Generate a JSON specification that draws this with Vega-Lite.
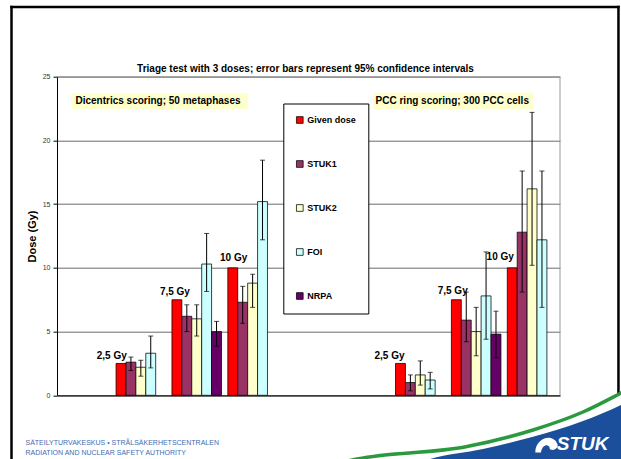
{
  "$schema": "https://vega.github.io/schema/vega-lite/v6.json",
  "width": 503,
  "height": 318.6,
  "autosize": {"type": "none"},
  "padding": {"left": 57, "top": 76.7, "right": 61, "bottom": 63.7},
  "background": "white",
  "config": {"view": {"stroke": null}, "font": "Liberation Sans"},
  "datasets": {
    "bars": [
      {"cat": "Dic 2,5 Gy", "series": "Given dose", "dose": 2.5, "lo": null, "hi": null},
      {"cat": "Dic 2,5 Gy", "series": "STUK1", "dose": 2.6, "lo": 1.95, "hi": 3.0},
      {"cat": "Dic 2,5 Gy", "series": "STUK2", "dose": 2.2, "lo": 1.5, "hi": 2.75},
      {"cat": "Dic 2,5 Gy", "series": "FOI", "dose": 3.3, "lo": 2.15, "hi": 4.65},
      {"cat": "Dic 7,5 Gy", "series": "Given dose", "dose": 7.5, "lo": null, "hi": null},
      {"cat": "Dic 7,5 Gy", "series": "STUK1", "dose": 6.2, "lo": 5.0, "hi": 7.1},
      {"cat": "Dic 7,5 Gy", "series": "STUK2", "dose": 6.0, "lo": 4.65, "hi": 7.1},
      {"cat": "Dic 7,5 Gy", "series": "FOI", "dose": 10.3, "lo": 8.15, "hi": 12.7},
      {"cat": "Dic 7,5 Gy", "series": "NRPA", "dose": 5.0, "lo": 3.85, "hi": 5.8},
      {"cat": "Dic 10 Gy", "series": "Given dose", "dose": 10, "lo": null, "hi": null},
      {"cat": "Dic 10 Gy", "series": "STUK1", "dose": 7.3, "lo": 5.65, "hi": 8.55},
      {"cat": "Dic 10 Gy", "series": "STUK2", "dose": 8.8, "lo": 6.9, "hi": 9.5},
      {"cat": "Dic 10 Gy", "series": "FOI", "dose": 15.2, "lo": 12.2, "hi": 18.45},
      {"cat": "PCC 2,5 Gy", "series": "Given dose", "dose": 2.5, "lo": null, "hi": null},
      {"cat": "PCC 2,5 Gy", "series": "STUK1", "dose": 1.0, "lo": 0.35, "hi": 1.6},
      {"cat": "PCC 2,5 Gy", "series": "STUK2", "dose": 1.6, "lo": 0.8, "hi": 2.7},
      {"cat": "PCC 2,5 Gy", "series": "FOI", "dose": 1.2, "lo": 0.5, "hi": 1.8},
      {"cat": "PCC 7,5 Gy", "series": "Given dose", "dose": 7.5, "lo": null, "hi": null},
      {"cat": "PCC 7,5 Gy", "series": "STUK1", "dose": 5.9, "lo": 4.2, "hi": 8.1},
      {"cat": "PCC 7,5 Gy", "series": "STUK2", "dose": 5.0, "lo": 3.1, "hi": 6.9},
      {"cat": "PCC 7,5 Gy", "series": "FOI", "dose": 7.8, "lo": 4.4, "hi": 11.25},
      {"cat": "PCC 7,5 Gy", "series": "NRPA", "dose": 4.8, "lo": 2.95, "hi": 6.6},
      {"cat": "PCC 10 Gy", "series": "Given dose", "dose": 10, "lo": null, "hi": null},
      {"cat": "PCC 10 Gy", "series": "STUK1", "dose": 12.8, "lo": 8.1, "hi": 17.6},
      {"cat": "PCC 10 Gy", "series": "STUK2", "dose": 16.2, "lo": 10.2, "hi": 22.2},
      {"cat": "PCC 10 Gy", "series": "FOI", "dose": 12.2, "lo": 6.9, "hi": 17.6}
    ],
    "boxes": [
      {"label": "Dicentrics scoring; 50 metaphases", "u1": 0.27, "u2": 3.42, "v1": 22.45, "v2": 23.72, "tu": 0.33, "tv": 23.09},
      {"label": "PCC ring scoring; 300 PCC cells", "u1": 5.66, "u2": 8.52, "v1": 22.44, "v2": 23.74, "tu": 5.7, "tv": 23.09}
    ],
    "doselabels": [
      {"label": "2,5 Gy", "u": 0.98, "v": 3.08},
      {"label": "7,5 Gy", "u": 2.11, "v": 8.13},
      {"label": "10 Gy", "u": 3.16, "v": 10.8},
      {"label": "2,5 Gy", "u": 5.95, "v": 3.08},
      {"label": "7,5 Gy", "u": 7.08, "v": 8.16},
      {"label": "10 Gy", "u": 7.93, "v": 10.83}
    ],
    "titletext": [
      {"label": "Triage test with 3 doses; error bars represent 95% confidence intervals", "u": 4.446, "v": 25.37}
    ],
    "border": [
      {"u1": 0, "u2": 9, "v1": 25, "v2": 25},
      {"u1": 9, "u2": 9, "v1": 0, "v2": 25}
    ],
    "frame": [
      {"u1": -0.814, "u2": -0.814, "v1": -5.86, "v2": 30.47},
      {"u1": -0.814, "u2": 10.046, "v1": 30.47, "v2": 30.47},
      {"u1": 10.046, "u2": 10.046, "v1": 0.1, "v2": 30.47}
    ],
    "bluearea": [
      {"u": 6.316, "top": -5.55, "bottom": -6.5},
      {"u": 6.674, "top": -5.0, "bottom": -6.5},
      {"u": 7.622, "top": -4.21, "bottom": -6.5},
      {"u": 8.517, "top": -3.26, "bottom": -6.5},
      {"u": 9.411, "top": -2.02, "bottom": -6.5},
      {"u": 10.091, "top": -0.76, "bottom": -6.5},
      {"u": 10.431, "top": 0.02, "bottom": -6.5}
    ],
    "greenline": [
      {"u": 4.885, "v": -5.47},
      {"u": 5.368, "v": -5.0},
      {"u": 7.336, "v": -4.02},
      {"u": 8.517, "v": -2.72},
      {"u": 9.411, "v": -1.31},
      {"u": 10.091, "v": 0.18},
      {"u": 10.431, "v": 0.97}
    ],
    "logo": [
      {"label": "STUK", "u": 9.404, "v": -4.29}
    ],
    "logoicon": [
      {"u": 8.758, "v": -3.78}
    ]
  },
  "resolve": {"scale": {"x": "independent"}},
  "layer": [
    {
      "data": {"name": "bars"},
      "encoding": {
        "x": {
          "field": "cat", "type": "nominal", "sort": null,
          "scale": {"domain": ["gap0", "Dic 2,5 Gy", "Dic 7,5 Gy", "Dic 10 Gy", "gap1", "gap2", "PCC 2,5 Gy", "PCC 7,5 Gy", "PCC 10 Gy"], "paddingInner": 0, "paddingOuter": 0},
          "axis": {
            "orient": "bottom", "labels": false, "ticks": false, "grid": false,
            "domainColor": "black", "domainWidth": 1,
            "title": ["SÄTEILYTURVAKESKUS • STRÅLSÄKERHETSCENTRALEN", "RADIATION AND NUCLEAR SAFETY AUTHORITY"],
            "titleX": -32, "titleY": 49, "titleAlign": "left", "titleAnchor": "start", "titleBaseline": "alphabetic",
            "titleFontSize": 7, "titleFontWeight": "normal", "titleColor": "#3e6cb4", "titleLineHeight": 10.7, "titleFont": "Liberation Sans"
          }
        },
        "xOffset": {"field": "series", "type": "nominal", "scale": {"domain": ["Given dose", "STUK1", "STUK2", "FOI", "NRPA"], "paddingInner": 0, "paddingOuter": 0.32}}
      },
      "layer": [
        {
          "mark": {"type": "bar", "stroke": "black", "strokeWidth": 0.75},
          "encoding": {
            "y": {
              "field": "dose", "type": "quantitative",
              "scale": {"domain": [0, 25], "nice": false},
              "axis": {
                "orient": "left", "values": [0, 5, 10, 15, 20, 25],
                "title": "Dose (Gy)", "titleFontSize": 11, "titleFontWeight": "bold", "titleColor": "black", "titlePadding": 5, "titleFont": "Liberation Sans",
                "labelFontSize": 7, "labelColor": "#333333", "labelPadding": 3, "labelFont": "Liberation Sans",
                "tickSize": 4, "tickColor": "black", "domainColor": "black", "domainWidth": 1,
                "grid": true, "gridColor": "#6b6b6b", "gridWidth": 1
              }
            },
            "color": {
              "field": "series", "type": "nominal",
              "scale": {"domain": ["Given dose", "STUK1", "STUK2", "FOI", "NRPA"], "range": ["#FF0000", "#993366", "#FFFFCC", "#CCFFFF", "#660066"]},
              "legend": {
                "orient": "none", "legendX": 226.3, "legendY": 26.8, "title": null, "direction": "vertical",
                "padding": 12, "rowPadding": 33, "strokeColor": "black", "fillColor": "white",
                "symbolType": "square", "symbolSize": 45, "symbolStrokeColor": "black", "symbolStrokeWidth": 0.75, "symbolOpacity": 1,
                "labelFont": "Liberation Sans", "labelFontSize": 9, "labelFontWeight": "bold", "labelColor": "black", "labelOffset": 3
              }
            }
          }
        },
        {
          "transform": [{"filter": "datum.lo != null"}],
          "mark": {"type": "rule", "color": "black", "strokeWidth": 1},
          "encoding": {"y": {"field": "lo", "type": "quantitative"}, "y2": {"field": "hi"}}
        },
        {
          "transform": [{"filter": "datum.lo != null"}],
          "mark": {"type": "tick", "orient": "horizontal", "color": "black", "size": 5, "thickness": 1},
          "encoding": {"y": {"field": "lo", "type": "quantitative"}}
        },
        {
          "transform": [{"filter": "datum.hi != null"}],
          "mark": {"type": "tick", "orient": "horizontal", "color": "black", "size": 5, "thickness": 1},
          "encoding": {"y": {"field": "hi", "type": "quantitative"}}
        }
      ]
    },
    {
      "data": {"name": "border"},
      "mark": {"type": "rule", "color": "#999999", "strokeWidth": 1},
      "encoding": {
        "x": {"field": "u1", "type": "quantitative", "scale": {"domain": [0, 9], "zero": false, "nice": false}, "axis": null},
        "x2": {"field": "u2"},
        "y": {"field": "v1", "type": "quantitative"},
        "y2": {"field": "v2"}
      }
    },
    {
      "data": {"name": "boxes"},
      "mark": {"type": "rect", "fill": "#FFFFCC"},
      "encoding": {
        "x": {"field": "u1", "type": "quantitative", "scale": {"domain": [0, 9], "zero": false, "nice": false}, "axis": null},
        "x2": {"field": "u2"},
        "y": {"field": "v1", "type": "quantitative"},
        "y2": {"field": "v2"}
      }
    },
    {
      "data": {"name": "boxes"},
      "mark": {"type": "text", "align": "left", "baseline": "middle", "font": "Liberation Sans", "fontSize": 10, "fontWeight": "bold", "color": "black"},
      "encoding": {
        "x": {"field": "tu", "type": "quantitative", "scale": {"domain": [0, 9], "zero": false, "nice": false}, "axis": null},
        "y": {"field": "tv", "type": "quantitative"},
        "text": {"field": "label"}
      }
    },
    {
      "data": {"name": "doselabels"},
      "mark": {"type": "text", "align": "center", "baseline": "middle", "font": "Liberation Sans", "fontSize": 10, "fontWeight": "bold", "color": "black"},
      "encoding": {
        "x": {"field": "u", "type": "quantitative", "scale": {"domain": [0, 9], "zero": false, "nice": false}, "axis": null},
        "y": {"field": "v", "type": "quantitative"},
        "text": {"field": "label"}
      }
    },
    {
      "data": {"name": "titletext"},
      "mark": {"type": "text", "align": "center", "baseline": "alphabetic", "font": "Liberation Sans", "fontSize": 10, "fontWeight": "bold", "color": "black"},
      "encoding": {
        "x": {"field": "u", "type": "quantitative", "scale": {"domain": [0, 9], "zero": false, "nice": false}, "axis": null},
        "y": {"field": "v", "type": "quantitative"},
        "text": {"field": "label"}
      }
    },
    {
      "data": {"name": "frame"},
      "mark": {"type": "rule", "color": "black", "strokeWidth": 2.5, "strokeCap": "square"},
      "encoding": {
        "x": {"field": "u1", "type": "quantitative", "scale": {"domain": [0, 9], "zero": false, "nice": false}, "axis": null},
        "x2": {"field": "u2"},
        "y": {"field": "v1", "type": "quantitative"},
        "y2": {"field": "v2"}
      }
    },
    {
      "data": {"name": "bluearea"},
      "mark": {"type": "area", "fill": "#1b4f9c", "interpolate": "monotone"},
      "encoding": {
        "x": {"field": "u", "type": "quantitative", "scale": {"domain": [0, 9], "zero": false, "nice": false}, "axis": null},
        "y": {"field": "top", "type": "quantitative"},
        "y2": {"field": "bottom"}
      }
    },
    {
      "data": {"name": "greenline"},
      "mark": {"type": "line", "color": "#2a9a3e", "strokeWidth": 3.5, "interpolate": "monotone"},
      "encoding": {
        "x": {"field": "u", "type": "quantitative", "scale": {"domain": [0, 9], "zero": false, "nice": false}, "axis": null},
        "y": {"field": "v", "type": "quantitative"}
      }
    },
    {
      "data": {"name": "logoicon"},
      "mark": {"type": "point", "filled": true, "color": "white", "opacity": 1, "size": 500, "shape": "M -1 0.8 C -1 -0.5 0.6 -1 1 0.1 C 1 0.5 0.6 0.7 0.3 0.5 C 0.3 0.1 -0.3 -0.1 -0.5 0.8 Z"},
      "encoding": {
        "x": {"field": "u", "type": "quantitative", "scale": {"domain": [0, 9], "zero": false, "nice": false}, "axis": null},
        "y": {"field": "v", "type": "quantitative"}
      }
    },
    {
      "data": {"name": "logo"},
      "mark": {"type": "text", "align": "center", "baseline": "alphabetic", "font": "Liberation Sans", "fontSize": 19, "fontWeight": "bold", "fontStyle": "italic", "color": "white"},
      "encoding": {
        "x": {"field": "u", "type": "quantitative", "scale": {"domain": [0, 9], "zero": false, "nice": false}, "axis": null},
        "y": {"field": "v", "type": "quantitative"},
        "text": {"field": "label"}
      }
    }
  ]
}
